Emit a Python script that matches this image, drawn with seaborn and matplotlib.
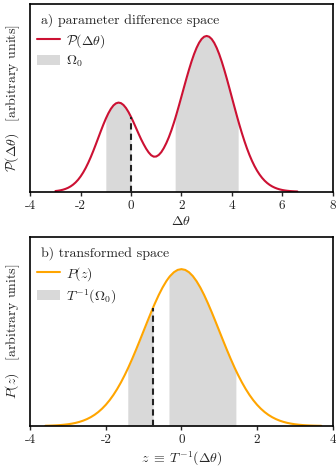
import matplotlib
matplotlib.use("Agg")
import matplotlib.pyplot as plt
import seaborn as sns

# panel a) density in parameter-difference space (arbitrary units, big peak = 100)
dtheta = [-3.0, -2.9, -2.8, -2.7, -2.6, -2.5, -2.4, -2.3, -2.2, -2.1,
          -2.0, -1.9, -1.8, -1.7, -1.6, -1.5, -1.4, -1.3, -1.2, -1.1,
          -1.0, -0.9, -0.8, -0.7, -0.6, -0.5, -0.4, -0.3, -0.2, -0.1,
          0.0, 0.1, 0.2, 0.3, 0.4, 0.5, 0.6, 0.7, 0.8, 0.9,
          1.0, 1.1, 1.2, 1.3, 1.4, 1.5, 1.6, 1.7, 1.75, 1.8, 1.9,
          2.0, 2.1, 2.2, 2.3, 2.4, 2.5, 2.6, 2.7, 2.8, 2.9,
          3.0, 3.1, 3.2, 3.3, 3.4, 3.5, 3.6, 3.7, 3.8, 3.9,
          4.0, 4.1, 4.2, 4.25, 4.3, 4.4, 4.5, 4.6, 4.7, 4.8, 4.9,
          5.0, 5.1, 5.2, 5.3, 5.4, 5.5, 5.6, 5.7, 5.8, 5.9,
          6.0, 6.1, 6.2, 6.3, 6.4, 6.5, 6.6]
p_dtheta = [0.43, 0.63, 0.91, 1.30, 1.82, 2.50, 3.40, 4.54, 5.96, 7.71,
            9.83, 12.33, 15.22, 18.51, 22.15, 26.10, 30.28, 34.58, 38.89, 43.05,
            46.92, 50.35, 53.20, 55.36, 56.71, 57.22, 56.87, 55.68, 53.73, 51.12,
            48.00, 44.52, 40.85, 37.18, 33.67, 30.49, 27.60, 25.20, 23.40, 22.50,
            22.60, 23.60, 25.40, 28.00, 31.20, 34.97, 39.35, 44.26, 46.87, 49.59, 55.24,
            61.08, 66.98, 72.80, 78.38, 83.61, 88.30, 92.34, 95.62, 98.02, 99.50,
            100.0, 99.50, 98.02, 95.60, 92.31, 88.25, 83.53, 78.26, 72.61, 66.69,
            60.65, 54.61, 48.68, 45.78, 42.96, 37.53, 32.47, 27.80, 23.58, 19.79, 16.45,
            13.53, 11.03, 8.89, 7.10, 5.61, 4.39, 3.40, 2.61, 1.98, 1.49,
            1.11, 0.82, 0.60, 0.43, 0.31, 0.22, 0.15]
omega0 = [(-1.0, 0.0), (1.75, 4.25)]
dtheta_mark = 0.0

# panel b) density in transformed space
z = [-3.6, -3.5, -3.4, -3.3, -3.2, -3.1, -3.0, -2.9, -2.8, -2.7,
     -2.6, -2.5, -2.4, -2.3, -2.2, -2.1, -2.0, -1.9, -1.8, -1.7,
     -1.6, -1.5, -1.42, -1.4, -1.3, -1.2, -1.1, -1.0, -0.9, -0.8, -0.75,
     -0.7, -0.6, -0.5, -0.4, -0.33, -0.3, -0.2, -0.1,
     0.0, 0.1, 0.2, 0.3, 0.4, 0.5, 0.6, 0.7, 0.8, 0.9,
     1.0, 1.1, 1.2, 1.3, 1.4, 1.44, 1.5, 1.6, 1.7, 1.8, 1.9,
     2.0, 2.1, 2.2, 2.3, 2.4, 2.5, 2.6, 2.7, 2.8, 2.9,
     3.0, 3.1, 3.2, 3.3, 3.4, 3.5, 3.6, 3.7]
p_z = [0.15, 0.22, 0.31, 0.43, 0.60, 0.82, 1.11, 1.49, 1.98, 2.61,
       3.40, 4.39, 5.61, 7.10, 8.89, 11.03, 13.53, 16.45, 19.79, 23.58,
       27.80, 32.47, 36.50, 37.53, 42.96, 48.68, 54.61, 60.65, 66.69, 72.61, 75.48,
       78.26, 83.53, 88.25, 92.31, 94.70, 95.60, 98.02, 99.50,
       100.0, 99.50, 98.02, 95.60, 92.31, 88.25, 83.53, 78.26, 72.61, 66.69,
       60.65, 54.61, 48.68, 42.96, 37.53, 35.46, 32.47, 27.80, 23.58, 19.79, 16.45,
       13.53, 11.03, 8.89, 7.10, 5.61, 4.39, 3.40, 2.61, 1.98, 1.49,
       1.11, 0.82, 0.60, 0.43, 0.31, 0.22, 0.15, 0.11]
t_omega0 = [(-1.42, -0.75), (-0.33, 1.44)]
z_mark = -0.75

sns.set_style("ticks")
plt.rcParams["font.family"] = "serif"
plt.rcParams["font.serif"] = ["cmr10"]
plt.rcParams["mathtext.fontset"] = "cm"
plt.rcParams["axes.unicode_minus"] = False
plt.rcParams["axes.formatter.use_mathtext"] = False

SHADE = "#d9d9d9"


def panel(ax, x, y, regions, mark, color, curve_lbl, region_lbl, title,
          xlim, xticks, xlabel, ylabel):
    sns.lineplot(x=x, y=y, ax=ax, color=color, lw=1.5, label=curve_lbl)
    for i, (lo, hi) in enumerate(regions):
        xs = [a for a in x if lo <= a <= hi]
        ys = [b for a, b in zip(x, y) if lo <= a <= hi]
        ax.fill_between(xs, 0, ys, color=SHADE, lw=0, zorder=1,
                        label=region_lbl if i == 0 else None)
    ax.vlines(mark, 0, y[x.index(mark)], colors="#222222",
              linestyles=(0, (3, 2)), lw=1.5, zorder=3)
    ax.set_xlim(*xlim)
    ax.set_ylim(0, 120.5)
    ax.set_xticks(xticks)
    ax.set_xticklabels([str(t) for t in xticks])
    ax.set_yticks([])
    ax.tick_params(axis="x", labelsize=9.5, length=3, width=1, pad=3)
    for s in ax.spines.values():
        s.set_linewidth(1.2)
        s.set_color("black")
    ax.set_xlabel(xlabel, fontsize=10, labelpad=2)
    ax.set_ylabel(ylabel, fontsize=10, labelpad=6)
    ax.text(0.037, 0.913, title, transform=ax.transAxes, fontsize=10,
            ha="left", va="center")
    ax.legend(loc="upper left", bbox_to_anchor=(0.021, 0.852), frameon=False,
              fontsize=10, handlelength=1.65, handleheight=0.75,
              borderpad=0, borderaxespad=0, labelspacing=0.32,
              handletextpad=0.45)


fig = plt.figure(figsize=(3.36, 4.73), dpi=100)
ax1 = fig.add_axes([0.090, 0.5947, 0.900, 0.3968])
ax2 = fig.add_axes([0.090, 0.0994, 0.900, 0.3996])

panel(ax1, dtheta, p_dtheta, omega0, dtheta_mark, "#cc1133",
      r"$\mathcal{P}(\Delta\theta)$", r"$\Omega_0$",
      "a) parameter difference space", (-4, 8), [-4, -2, 0, 2, 4, 6, 8],
      r"$\Delta\theta$", r"$\mathcal{P}(\Delta\theta)\quad$[arbitrary units]")

panel(ax2, z, p_z, t_omega0, z_mark, "#ffa500",
      r"$P(z)$", r"$T^{-1}(\Omega_0)$",
      "b) transformed space", (-4, 4), [-4, -2, 0, 2, 4],
      r"$z\;\equiv\;T^{-1}(\Delta\theta)$", r"$P(z)\quad$[arbitrary units]")

fig.savefig("out.png", dpi=100)
